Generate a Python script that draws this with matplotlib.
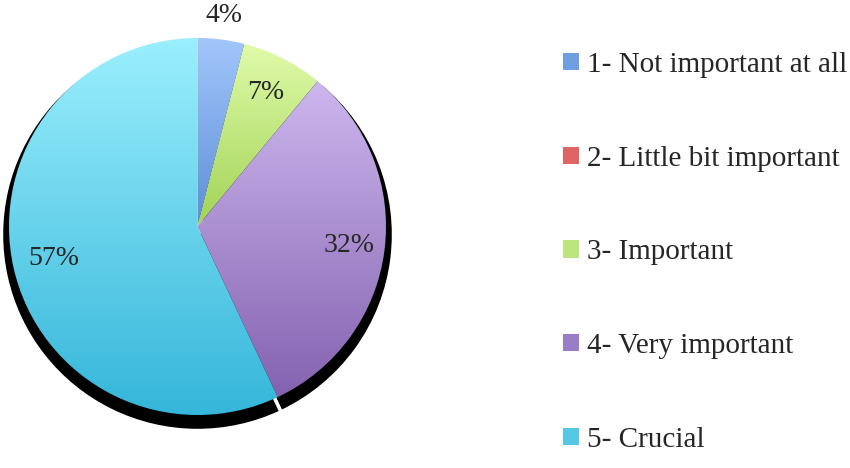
import numpy as np
import matplotlib.pyplot as plt
from matplotlib.patches import Patch, Wedge
from matplotlib.colors import LinearSegmentedColormap

# survey answers (percent)
categories = ['1- Not important at all', '2- Little bit important', '3- Important',
              '4- Very important', '5- Crucial']
values = [4, 0, 7, 32, 57]

# gradient fill colours, light (top) -> dark (bottom)
top_colors = ['#a3c6fb', '#f4a3a3', '#e0fbaa', '#cdb7ee', '#9beffd']
bottom_colors = ['#5b8fd6', '#d04848', '#a2d356', '#8462b0', '#35b6da']
legend_colors = ['#6f9fe0', '#e06464', '#bde57e', '#9a7cc8', '#55c8e6']
label_dist = [1.13, 0.8, 0.8, 0.81, 0.78]

plt.rcParams['font.family'] = ['Liberation Serif', 'DejaVu Serif']
text_color = '#262626'

fig = plt.figure(figsize=(8.5, 4.68), dpi=100)
ax = fig.add_axes([0, 0, 1, 1])

cx, cy, r = 197.5, 241.5, 188.5
wedges, _ = ax.pie(values, startangle=90, counterclock=False, center=(cx, cy),
                   radius=r, frame=True)

grad = np.linspace(0, 1, 256).reshape(-1, 1)
for w, v, c0, c1, d in zip(wedges, values, top_colors, bottom_colors, label_dist):
    w.set_facecolor('none')
    w.set_edgecolor('none')
    w.set_zorder(3)
    if v == 0:
        continue
    # drop shadow
    sh = Wedge((cx, cy - 8), r * 1.04, w.theta1, w.theta2,
               facecolor='black', edgecolor='white', linewidth=2.5, zorder=1)
    ax.add_patch(sh)
    # vertical gradient clipped to the slice
    ext = w.get_path().get_extents()
    cmap = LinearSegmentedColormap.from_list('g', [c1, c0])
    ax.imshow(grad, cmap=cmap, origin='lower', aspect='auto',
              extent=[ext.x0, ext.x1, ext.y0, ext.y1], clip_path=w, zorder=2)
    mid = np.deg2rad((w.theta1 + w.theta2) / 2)
    ax.text(cx + d * r * np.cos(mid), cy + d * r * np.sin(mid), f'{v}%',
            ha='center', va='center', fontsize=20, color=text_color, zorder=4)

ax.set_xlim(0, 850)
ax.set_ylim(0, 468)
ax.axis('off')

handles = [Patch(facecolor=c, edgecolor='none') for c in legend_colors]
fig.legend(handles, categories, loc='upper left', bbox_to_anchor=(563 / 850, 1 - 52 / 468),
           frameon=False, fontsize=21, labelcolor=text_color, handlelength=0.55,
           handleheight=0.55, handletextpad=0.27, labelspacing=2.32,
           borderaxespad=0, borderpad=0)

fig.savefig('out.png', dpi=100)
